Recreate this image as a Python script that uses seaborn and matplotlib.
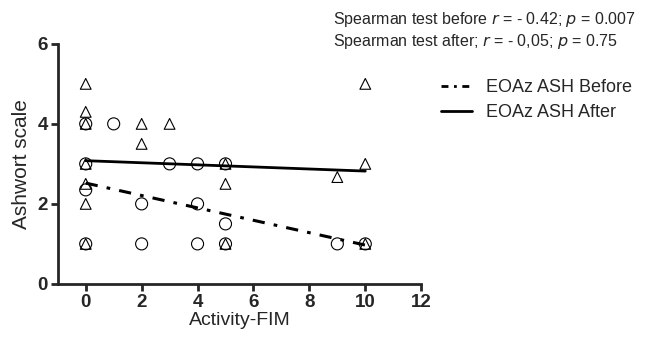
import numpy as np
import matplotlib
matplotlib.use('Agg')
import matplotlib.pyplot as plt
import pandas as pd
import seaborn as sns
from matplotlib.lines import Line2D

sns.set_style('ticks')
plt.rcParams['font.family'] = ['Liberation Sans', 'DejaVu Sans']

# EOAz ASH before (circles)
before_x = [0, 1, 0, 3, 4, 0, 2, 4, 0, 2, 4, 5, 5, 5, 9, 10]
before_y = [4, 4, 3, 3, 3, 2.35, 2, 2, 1, 1, 1, 3, 1.5, 1, 1, 1]

# EOAz ASH after (triangles)
after_x = [0, 0, 0, 2, 3, 2, 0, 0, 0, 0, 5, 5, 5, 9, 10, 10, 10]
after_y = [5, 4.3, 4, 4, 4, 3.5, 3, 2.5, 2, 1, 3, 2.5, 1, 2.67, 3, 5, 1]

# fitted lines (x range, intercept, slope)
line_x = [0, 10]
before_fit = (2.52, -0.155)
after_fit = (3.08, -0.026)

df_b = pd.DataFrame({'x': before_x, 'y': before_y})
df_a = pd.DataFrame({'x': after_x, 'y': after_y})
fit_b = pd.DataFrame({'x': line_x, 'y': [before_fit[0] + before_fit[1] * v for v in line_x]})
fit_a = pd.DataFrame({'x': line_x, 'y': [after_fit[0] + after_fit[1] * v for v in line_x]})

fig = plt.figure(figsize=(6.49, 3.40), dpi=100)
ax = fig.add_axes([0.089, 0.165, 0.56, 0.706])

sns.scatterplot(data=df_a, x='x', y='y', marker='^', s=60, facecolor='none',
                edgecolor='black', linewidth=0.8, ax=ax, zorder=3)
sns.scatterplot(data=df_b, x='x', y='y', marker='o', s=75, facecolor='none',
                edgecolor='black', linewidth=0.8, ax=ax, zorder=3)
sns.lineplot(data=fit_b, x='x', y='y', color='black', lw=2.2, ax=ax,
             zorder=2).lines[-1].set_dashes([4, 3, 1.2, 3])
sns.lineplot(data=fit_a, x='x', y='y', color='black', lw=2, ax=ax, zorder=2)

ax.set_xlim(-1, 12)
ax.set_ylim(0, 6)
ax.set_xticks([0, 2, 4, 6, 8, 10, 12])
ax.set_yticks([0, 2, 4, 6])
ax.spines['top'].set_visible(False)
ax.spines['right'].set_visible(False)
for s in ['left', 'bottom']:
    ax.spines[s].set_linewidth(2)
ax.tick_params(width=2, length=5, labelsize=13.5, pad=2)
for lab in ax.get_xticklabels() + ax.get_yticklabels():
    lab.set_fontweight('bold')
ax.set_xlabel('Activity-FIM', fontsize=14, labelpad=1)
ax.set_ylabel('Ashwort scale', fontsize=15, labelpad=5)

fig.text(0.513, 0.93, 'Spearman test before $\\it{r}$ = - 0.42; $\\it{p}$ = 0.007',
         fontsize=11.5)
fig.text(0.513, 0.865, 'Spearman test after; $\\it{r}$ = - 0,05; $\\it{p}$ = 0.75',
         fontsize=11.5)

handles = [Line2D([], [], color='black', lw=2, dashes=[2.5, 2, 1, 2]),
           Line2D([], [], color='black', lw=2)]
fig.legend(handles, ['EOAz ASH Before', 'EOAz ASH After'], loc='upper left',
           bbox_to_anchor=(0.655, 0.815), frameon=False, fontsize=13,
           handlelength=1.7, handletextpad=0.8, labelspacing=0.45)

fig.savefig('out.png', dpi=100)
